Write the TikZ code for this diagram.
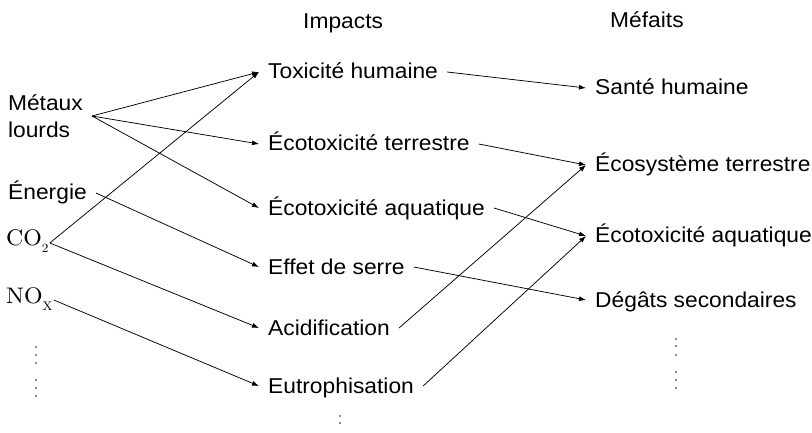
\documentclass[tikz,border=0pt]{standalone}
\usepackage{fontspec}
\setmainfont{Liberation Sans}[FakeStretch=1.06]
\newfontfamily\cmfont{lmroman10-regular.otf}[FakeStretch=1.06]
\usetikzlibrary{arrows.meta}
\begin{document}
\begin{tikzpicture}[x=1pt,y=-1pt,
  lbl/.style={font=\fontsize{21.5}{27}\selectfont, inner xsep=9pt, inner ysep=0pt,
              text height=16.5pt, text depth=2.5pt, anchor=base west},
  head/.style={font=\fontsize{21.5}{27}\selectfont, inner sep=0pt, anchor=base west},
  chem/.style={font=\cmfont\fontsize{22.5}{26}\selectfont, inner xsep=1pt, inner ysep=0pt,
              text height=10pt, text depth=4pt, anchor=base west},
  arr/.style={-{Latex[length=7pt,width=5pt]}, line width=0.75pt},
  dotm/.style={line width=1.3pt, black!45}]
\useasboundingbox (0,0) rectangle (812,433);

% headings
\node[head] (impacts) at (303,29) {Impacts};
\node[head] (mefaits) at (610,28) {Méfaits};

% sources
\node[font=\fontsize{21.5}{27}\selectfont, inner xsep=9pt, inner ysep=0pt, align=left, anchor=east]
  (metaux) at (92,116) {Métaux\\lourds};
\node[lbl] (energie) at (-1,200) {Énergie};
\node[chem] (co2) at (5,246) {CO{\fontsize{12.5}{13}\selectfont\raisebox{-6pt}{2}}};
\node[chem] (nox) at (5,303) {NO{\fontsize{12.5}{13}\selectfont\raisebox{-7pt}{X}}};

% impacts
\node[lbl] (tox) at (259,79) {Toxicité humaine};
\node[lbl] (ecoterr) at (259,151) {Écotoxicité terrestre};
\node[lbl] (ecoaq) at (259,215) {Écotoxicité aquatique};
\node[lbl] (effet) at (259,274) {Effet de serre};
\node[lbl] (acid) at (259,335) {Acidification};
\node[lbl] (eutro) at (259,393) {Eutrophisation};

% damages
\node[lbl] (sante) at (586,95) {Santé humaine};
\node[lbl] (ecosys) at (586,172) {Écosystème terrestre};
\node[lbl] (ecoaqr) at (586,243) {Écotoxicité aquatique};
\node[lbl] (degats) at (586,307) {Dégâts secondaires};

% connectors sources -> impacts
\draw[arr] (metaux.east) -- (tox.west);
\draw[arr] (metaux.east) -- (ecoterr.west);
\draw[arr] (metaux.east) -- (ecoaq.west);
\draw[arr] (energie.east) -- (effet.west);
\draw[arr] (co2.east) -- (tox.west);
\draw[arr] (co2.east) -- (acid.west);
\draw[arr] (nox.east) -- (eutro.west);

% connectors impacts -> damages
\draw[arr] (tox.east) -- (sante.west);
\draw[arr] (ecoterr.east) -- (ecosys.west);
\draw[arr] (ecoaq.east) -- (ecoaqr.west);
\draw[arr] (effet.east) -- (degats.west);
\draw[arr] (acid.east) -- (ecosys.west);
\draw[arr] (eutro.east) -- (ecoaqr.west);

% continuation dots
\foreach \y in {347,355,363,380,388,396} \draw[dotm] (34.5,\y) -- ++(2.5,0);
\foreach \y in {339,346,355,372,380,388} \draw[dotm] (674.5,\y) -- ++(2.5,0);
\foreach \y in {416,423} \draw[dotm] (338.5,\y) -- ++(2.5,0);
\end{tikzpicture}
\end{document}
